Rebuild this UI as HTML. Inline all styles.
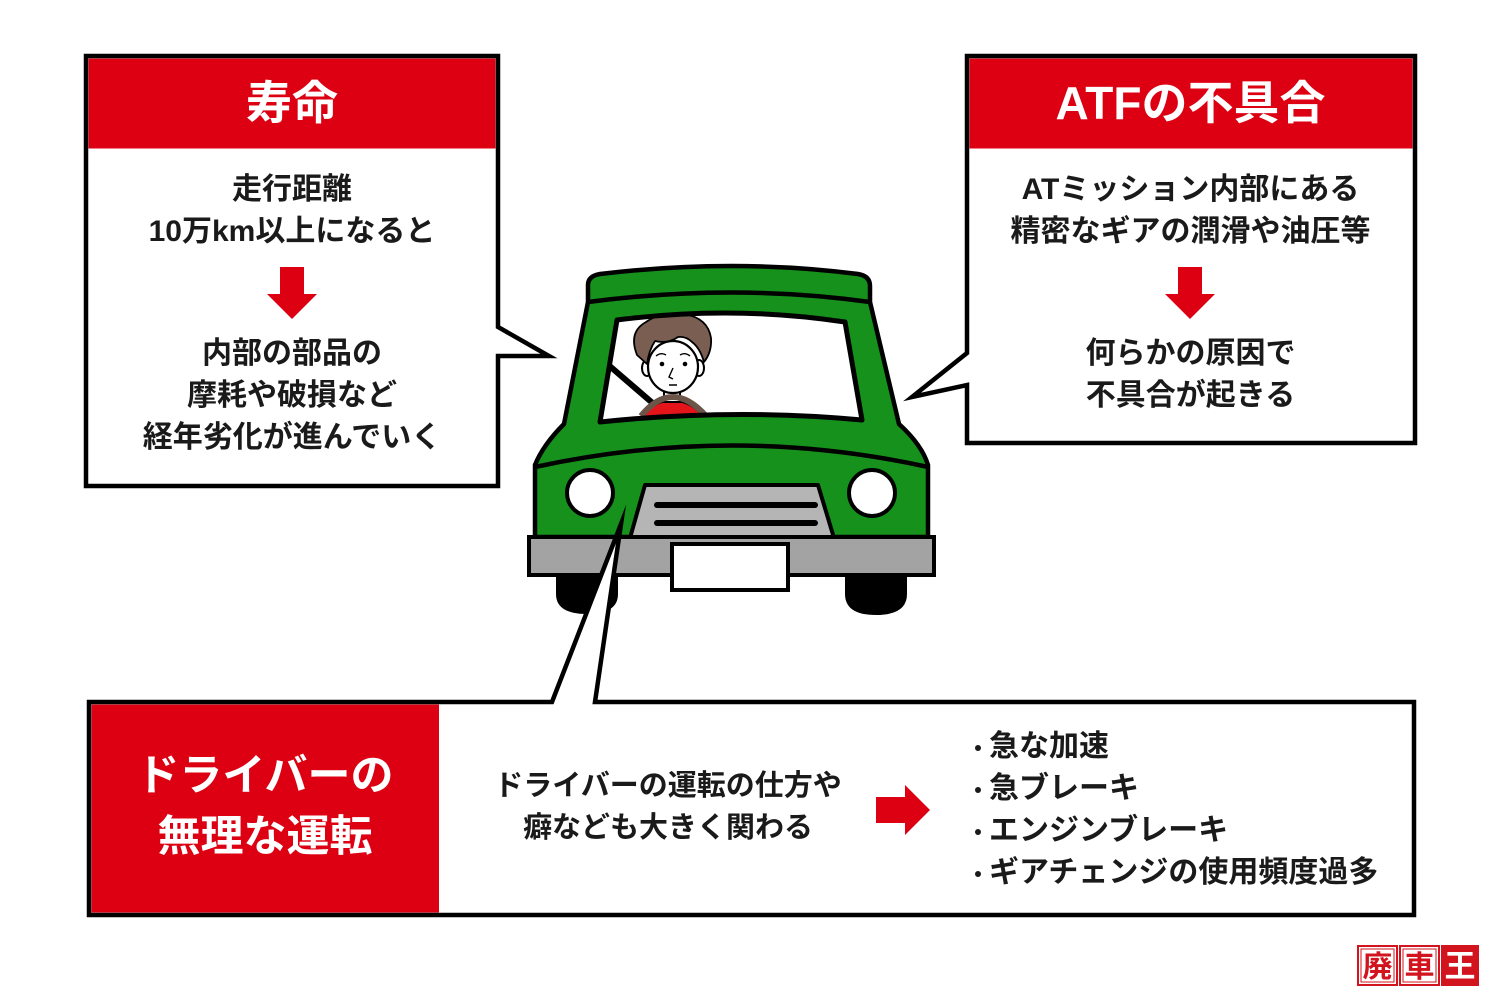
<!DOCTYPE html>
<html>
<head>
<meta charset="utf-8">
<style>
  html,body{margin:0;padding:0;background:#fff;}
  #wrap{position:relative;width:1500px;height:1000px;overflow:hidden;background:#fff;
    font-family:"Liberation Sans","Noto Sans CJK JP",sans-serif;font-weight:700;color:#1a1a1a;}
  svg{position:absolute;left:0;top:0;}
  .t{position:absolute;white-space:nowrap;}
  .c{text-align:center;}
  .hd{color:#fff;font-size:46px;line-height:60px;}
  .bd{font-size:30px;line-height:42px;}
  .dot{position:absolute;width:6px;height:6px;border-radius:50%;background:#1a1a1a;}
</style>
</head>
<body>
<div id="wrap">
<svg width="1500" height="1000" viewBox="0 0 1500 1000" xmlns="http://www.w3.org/2000/svg">
  <defs>
    <clipPath id="ws">
      <path d="M617,320 Q733,305 845,322 L862,420 Q733,408 600,422 Z"/>
    </clipPath>
  </defs>

  <!-- ===== CAR ===== -->
  <path d="M556,570 L556,594 Q556,614 587,614 Q618,614 618,594 L618,570 Z" fill="#000"/>
  <path d="M845,570 L845,594 Q845,615 876,615 Q907,615 907,594 L907,570 Z" fill="#000"/>
  <path d="M535,537 L535,465 Q543,445 564,424 L588,302 L588,285 Q588,276 600,274 Q733,258 858,274 Q870,276 870,286 L870,302 L899,424 Q922,445 928,465 L928,537 Z"
        fill="#16911b" stroke="#000" stroke-width="4.5" stroke-linejoin="round"/>
  <path d="M588,302 Q733,283 870,302" fill="none" stroke="#000" stroke-width="4.5"/>
  <path d="M535,467 Q733,424 928,467" fill="none" stroke="#000" stroke-width="4.5"/>
  <path d="M617,320 Q733,305 845,322 L862,420 Q733,408 600,422 Z" fill="#fff"/>
  <g clip-path="url(#ws)">
    <line x1="598" y1="356" x2="656" y2="406" stroke="#000" stroke-width="6"/>
    <path d="M640,425 Q645,403 672,400 Q700,403 706,425 Z" fill="#e3151a" stroke="#000" stroke-width="2"/>
    <rect x="664" y="386" width="16" height="16" fill="#fff" stroke="#000" stroke-width="2"/>
    <ellipse cx="647" cy="368" rx="5" ry="8" fill="#fff" stroke="#000" stroke-width="2"/>
    <ellipse cx="699" cy="368" rx="5" ry="8" fill="#fff" stroke="#000" stroke-width="2"/>
    <ellipse cx="673" cy="367" rx="25" ry="26" fill="#fff" stroke="#000" stroke-width="2.2"/>
    <path d="M637,355 Q628,332 646,322 Q662,311 684,314 Q708,318 711,338 Q712,352 704,362 Q700,348 692,342 Q686,336 678,337 Q668,344 655,341 Q649,350 647,364 Z"
          fill="#7b5e52" stroke="#000" stroke-width="1.8" stroke-linejoin="round"/>
    <circle cx="662" cy="364" r="2.3" fill="#000"/>
    <circle cx="685" cy="364" r="2.3" fill="#000"/>
    <path d="M656,356 Q661,352 666,355" fill="none" stroke="#000" stroke-width="1.4"/>
    <path d="M680,355 Q685,352 690,356" fill="none" stroke="#000" stroke-width="1.4"/>
    <path d="M673,368 L669,377 L673,379" fill="none" stroke="#000" stroke-width="1.4"/>
    <line x1="669" y1="385" x2="677" y2="385" stroke="#000" stroke-width="1.5"/>
    <path d="M641,416 Q672,378 706,416" fill="none" stroke="#6b5448" stroke-width="6"/>
  </g>
  <path d="M617,320 Q733,305 845,322 L862,420 Q733,408 600,422 Z" fill="none" stroke="#000" stroke-width="5" stroke-linejoin="round"/>
  <circle cx="590" cy="493" r="23" fill="#fff" stroke="#000" stroke-width="4"/>
  <circle cx="872" cy="493" r="23" fill="#fff" stroke="#000" stroke-width="4"/>
  <polygon points="645,485 818,485 834,538 630,538" fill="#b5b5b5" stroke="#000" stroke-width="4" stroke-linejoin="round"/>
  <line x1="657" y1="505" x2="815" y2="505" stroke="#000" stroke-width="6" stroke-linecap="round"/>
  <line x1="657" y1="523" x2="815" y2="523" stroke="#000" stroke-width="6" stroke-linecap="round"/>
  <rect x="529" y="537" width="405" height="38" fill="#a3a3a3" stroke="#000" stroke-width="4"/>
  <rect x="672" y="544" width="116" height="46" fill="#fff" stroke="#000" stroke-width="4"/>

  <!-- ===== LEFT BOX ===== -->
  <path d="M86,56 L498,56 L498,327 L549,356 L498,356 L498,486 L86,486 Z"
        fill="#fff" stroke="#000" stroke-width="4.5" stroke-miterlimit="10"/>
  <rect x="88.5" y="58.5" width="407" height="90" fill="#dc0012"/>
  <polygon points="280,267 304,267 304,294 317,294 292,319 267,294 280,294" fill="#dc0012"/>

  <!-- ===== RIGHT BOX ===== -->
  <path d="M967,56 L1415,56 L1415,443 L967,443 L967,385 L912,397 L967,353 Z"
        fill="#fff" stroke="#000" stroke-width="4.5" stroke-miterlimit="10"/>
  <rect x="969.5" y="58.5" width="443" height="90" fill="#dc0012"/>
  <polygon points="1178,267 1202,267 1202,294 1215,294 1190,319 1165,294 1178,294" fill="#dc0012"/>

  <!-- ===== BOTTOM BOX ===== -->
  <path d="M89,702 L552,702 L621,524 L595,702 L1414,702 L1414,915 L89,915 Z"
        fill="#fff" stroke="#000" stroke-width="4.5" stroke-miterlimit="10"/>
  <rect x="91.5" y="704.5" width="347.5" height="208" fill="#dc0012"/>
  <polygon points="876,797 905,797 905,785 930,810 905,835 905,823 876,823" fill="#dc0012"/>

  <!-- ===== LOGO ===== -->
  <rect x="1358" y="946" width="39" height="39" fill="#fff" stroke="#d2141e" stroke-width="2"/>
  <rect x="1361" y="949" width="33" height="33" fill="none" stroke="#d2141e" stroke-width="1"/>
  <rect x="1400" y="946" width="39" height="39" fill="#fff" stroke="#d2141e" stroke-width="2"/>
  <rect x="1403" y="949" width="33" height="33" fill="none" stroke="#d2141e" stroke-width="1"/>
  <rect x="1441" y="945" width="38" height="41" fill="#d2141e"/>
  <text x="1377.5" y="977" font-size="30" font-weight="700" text-anchor="middle" fill="#d2141e"
        font-family="'Liberation Sans','Noto Sans CJK JP',sans-serif">廃</text>
  <text x="1419.5" y="977" font-size="30" font-weight="700" text-anchor="middle" fill="#d2141e"
        font-family="'Liberation Sans','Noto Sans CJK JP',sans-serif">車</text>
  <text x="1460" y="977" font-size="31" font-weight="700" text-anchor="middle" fill="#fff"
        font-family="'Liberation Sans','Noto Sans CJK JP',sans-serif">王</text>
</svg>

<div class="t c hd" style="left:88px;width:408px;top:73px;">寿命</div>
<div class="t c bd" style="left:88px;width:408px;top:169px;">走行距離<br>10万km以上になると</div>
<div class="t c bd" style="left:88px;width:408px;top:333px;">内部の部品の<br>摩耗や破損など<br>経年劣化が進んでいく</div>

<div class="t c hd" style="left:969px;width:443px;top:73px;">ATFの不具合</div>
<div class="t c bd" style="left:969px;width:443px;top:169px;">ATミッション内部にある<br>精密なギアの潤滑や油圧等</div>
<div class="t c bd" style="left:969px;width:443px;top:333px;">何らかの原因で<br>不具合が起きる</div>

<div class="t c hd" style="left:91px;width:348px;top:746px;line-height:61px;font-size:43px;">ドライバーの<br>無理な運転</div>
<div class="t c" style="left:443px;width:450px;top:765px;font-size:29px;line-height:42px;">ドライバーの運転の仕方や<br>癖なども大きく関わる</div>

<div class="dot" style="left:975px;top:745px;"></div>
<div class="dot" style="left:975px;top:787px;"></div>
<div class="dot" style="left:975px;top:829px;"></div>
<div class="dot" style="left:975px;top:871px;"></div>
<div class="t bd" style="left:989px;top:726px;">急な加速<br>急ブレーキ<br>エンジンブレーキ<br>ギアチェンジの使用頻度過多</div>
</div>
</body>
</html>
